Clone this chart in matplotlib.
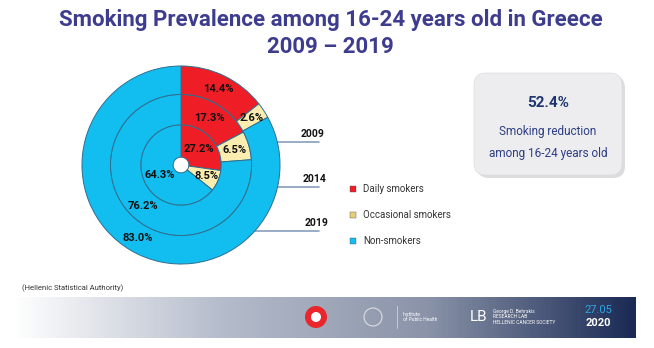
import numpy as np
import matplotlib

matplotlib.use("Agg")
import matplotlib.pyplot as plt  # noqa: E402
from matplotlib.colors import LinearSegmentedColormap  # noqa: E402
from matplotlib.patches import FancyBboxPatch, Circle  # noqa: E402

plt.rcParams["font.family"] = ["Roboto", "DejaVu Sans"]

years = ["2009", "2014", "2019"]
categories = ["Daily smokers", "Occasional smokers", "Non-smokers"]
values_2009 = [27.2, 8.5, 64.3]
values_2014 = [17.3, 6.5, 76.2]
values_2019 = [14.4, 2.6, 83.0]
reduction = "52.4%"

colors = ["#EE1D26", "#FBEDB0", "#12BDF0"]
edge = "#2f6f8f"

W, H = 654, 348
fig = plt.figure(figsize=(W / 100, H / 100), dpi=100)

# overlay axes in pixel coords
ov = fig.add_axes([0, 0, 1, 1])
ov.set_xlim(0, W)
ov.set_ylim(H, 0)
ov.axis("off")

# title
ov.text(331, 20, "Smoking Prevalence among 16-24 years old in Greece", ha="center", va="center",
        fontsize=16, fontweight="bold", color="#3E3C8E")
ov.text(330, 47, "2009 \u2013 2019", ha="center", va="center",
        fontsize=16, fontweight="bold", color="#3E3C8E")

# donut
cx, cy, R = 181, 165, 101
pax = fig.add_axes([(cx - R) / W, (H - cy - R) / H, 2 * R / W, 2 * R / H])
pax.axis("off")

radii = [(41 / R, 8 / R), (72 / R, 41 / R), (1.0, 72 / R)]
rings = [values_2009, values_2014, values_2019]
for vals, (r_out, r_in) in zip(rings, radii):
    width = r_out - r_in
    wedges, _ = pax.pie(vals, radius=r_out, colors=colors, startangle=90, counterclock=False,
                        wedgeprops=dict(width=width, edgecolor=edge, linewidth=0.7))
    r_mid = r_in + width / 2
    for w, v in zip(wedges, vals):
        ang = np.deg2rad((w.theta1 + w.theta2) / 2)
        rr = r_mid + (0.04 if v < 10 and r_out < 0.5 else 0)
        pax.text(rr * np.cos(ang), rr * np.sin(ang), f"{v:.1f}%", ha="center", va="center",
                 fontsize=8, fontweight="bold", color="#111111")
pax.set_xlim(-1.02, 1.02)
pax.set_ylim(-1.02, 1.02)

# year arrows
arrow_tips = [(207, 142), (222, 187), (240, 231)]
arrow_ys = [142, 187, 231]
text_xs = [313, 315, 317]
for yr, (tx, ty), ly, lx in zip(years, arrow_tips, arrow_ys, text_xs):
    ov.annotate("", xy=(tx, ty), xytext=(322, ly),
                arrowprops=dict(arrowstyle="->", color="#4E6C9C", lw=0.8))
    ov.text(lx, ly - 8, yr, ha="center", va="center", fontsize=7.5, fontweight="bold", color="#111111")

# legend
leg_ys = [189, 215, 241]
for cat, col, ly in zip(categories, colors, leg_ys):
    ov.add_patch(plt.Rectangle((350, ly - 3), 6, 6, facecolor=col if col != "#FBEDB0" else "#E8CF7A",
                               edgecolor="#555555", linewidth=0.3))
    ov.text(363, ly, cat, ha="left", va="center", fontsize=7, color="#333333")

# info box
ov.add_patch(FancyBboxPatch((477, 76), 148, 102, boxstyle="round,pad=0,rounding_size=12",
                            facecolor="#bbbbbb", edgecolor="none", alpha=0.5))
ov.add_patch(FancyBboxPatch((474, 73), 148, 102, boxstyle="round,pad=0,rounding_size=12",
                            facecolor="#EDEDEF", edgecolor="#dddddd", linewidth=0.5))
ov.text(548, 103, reduction, ha="center", va="center", fontsize=11, fontweight="bold", color="#1F3570")
ov.text(548, 131, "Smoking reduction", ha="center", va="center", fontsize=8.5, color="#2D3E84")
ov.text(548, 154, "among 16-24 years old", ha="center", va="center", fontsize=8.5, color="#2D3E84")

# source
ov.text(22, 288, "(Hellenic Statistical Authority)", ha="left", va="center", fontsize=5.5, color="#333333")

# footer band
cmap = LinearSegmentedColormap.from_list("band", ["#ffffff", "#b5bccb", "#8a93a8", "#1A2A55"])
grad = np.linspace(0, 1, 300)[None, :]
ov.imshow(grad, cmap=cmap, extent=(12, 636, 338, 297), aspect="auto", zorder=0)
ov.set_xlim(0, W)
ov.set_ylim(H, 0)
ov.add_patch(Circle((316, 317), 11, facecolor="#E8262B", edgecolor="none", zorder=2))
ov.add_patch(Circle((316, 317), 5, facecolor="white", edgecolor="none", zorder=3))
ov.add_patch(Circle((373, 317), 9, facecolor="none", edgecolor="#dddddd", linewidth=0.8, zorder=2))
ov.plot([397, 397], [306, 328], color="#dddddd", lw=0.5)
ov.text(403, 317, "Institute\nof Public Health", ha="left", va="center", fontsize=3.5,
        color="white", linespacing=1.2)
ov.text(470, 317, "LB", ha="left", va="center", fontsize=11, color="white")
ov.text(493, 317, "George D. Behrakis\nRESEARCH LAB\nHELLENIC CANCER SOCIETY", ha="left", va="center",
        fontsize=3.5, color="white", linespacing=1.2)
ov.text(598, 310, "27.05", ha="center", va="center", fontsize=8, color="#2AA7E0")
ov.text(598, 323, "2020", ha="center", va="center", fontsize=8, fontweight="bold", color="white")

fig.savefig("out.png", dpi=100)
